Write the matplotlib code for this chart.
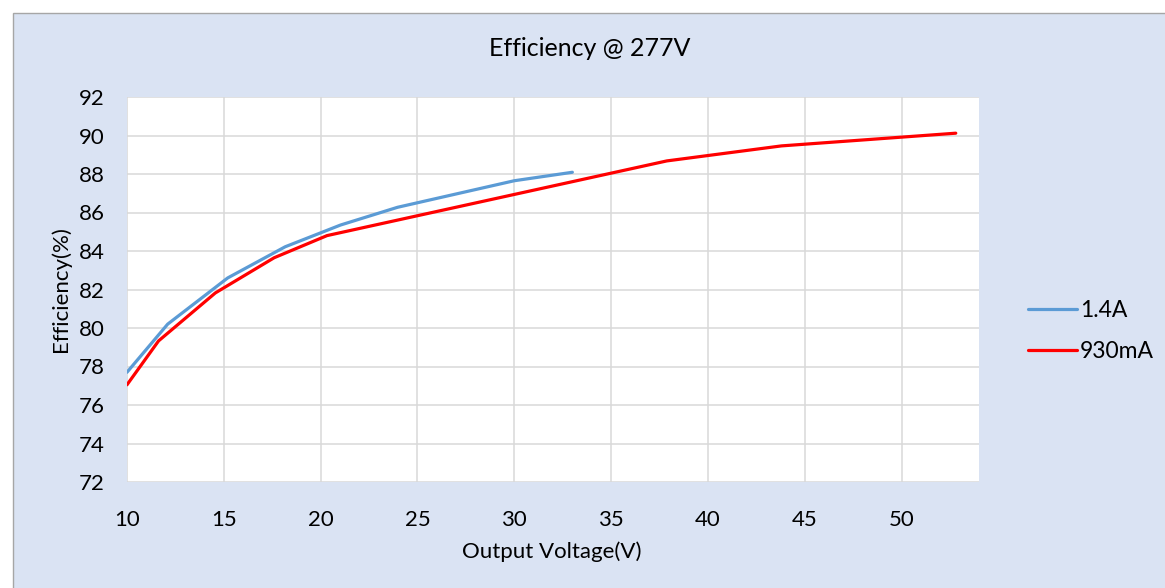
import matplotlib.pyplot as plt
from matplotlib.patches import Rectangle

plt.rcParams['font.family'] = ['Lato', 'DejaVu Sans']

# 1.4A curve
v_14a = [10, 12.1, 15.2, 18.17, 21.03, 23.97, 30.0, 33.0]
eff_14a = [77.7, 80.2, 82.6, 84.22, 85.35, 86.27, 87.65, 88.09]

# 930mA curve
v_930 = [10, 11.63, 14.56, 17.6, 20.33, 37.88, 43.8, 52.8]
eff_930 = [77.05, 79.33, 81.82, 83.65, 84.8, 88.68, 89.46, 90.12]

x_ticks = [10, 15, 20, 25, 30, 35, 40, 45, 50]
y_ticks = [72, 74, 76, 78, 80, 82, 84, 86, 88, 90, 92]

W, H = 1165, 588
fig = plt.figure(figsize=(W / 100, H / 100), dpi=100, facecolor='white')

# chart area background with thin gray border on top/left
bg = Rectangle((13 / W, -0.05), 1.1, 1 - 13 / H + 0.05, transform=fig.transFigure,
               facecolor='#DAE3F3', edgecolor='#a6a6a6', linewidth=1.0, zorder=-10)
fig.patches.append(bg)

ax = fig.add_axes([127 / W, 1 - 482 / H, (979 - 127) / W, (482 - 97) / H])
ax.set_zorder(1)
ax.set_facecolor('white')

ax.plot(v_14a, eff_14a, color='#5B9BD5', linewidth=2.3, label='1.4A',
        solid_capstyle='round', zorder=3)
ax.plot(v_930, eff_930, color='#FF0000', linewidth=2.3, label='930mA',
        solid_capstyle='round', zorder=3)

ax.set_xlim(10, 54)
ax.set_ylim(72, 92)
ax.set_xticks(x_ticks)
ax.set_yticks(y_ticks)
ax.grid(True, color='#D9D9D9', linewidth=1.1)
ax.set_axisbelow(True)
for s in ax.spines.values():
    s.set_visible(False)
ax.tick_params(length=0, labelsize=16, colors='black')
ax.tick_params(axis='x', pad=20)
ax.tick_params(axis='y', pad=16)

fig.text(552 / W, 1 - 552 / H, 'Output Voltage(V)', ha='center', va='center', fontsize=16)
fig.text(61 / W, 1 - 289 / H, 'Efficiency(%)', ha='center', va='center',
         rotation=90, fontsize=16)
fig.text(590 / W, 1 - 48 / H, 'Efficiency @ 277V', ha='center', va='center', fontsize=18)

ax.legend(loc='center left', bbox_to_anchor=(1028 / W, 1 - 331 / H),
          bbox_transform=fig.transFigure, frameon=False, fontsize=16.5,
          borderpad=0, borderaxespad=0, handlelength=2.15, handletextpad=0.12,
          labelspacing=0.9)

fig.savefig('out.png', dpi=100, facecolor=fig.get_facecolor())
